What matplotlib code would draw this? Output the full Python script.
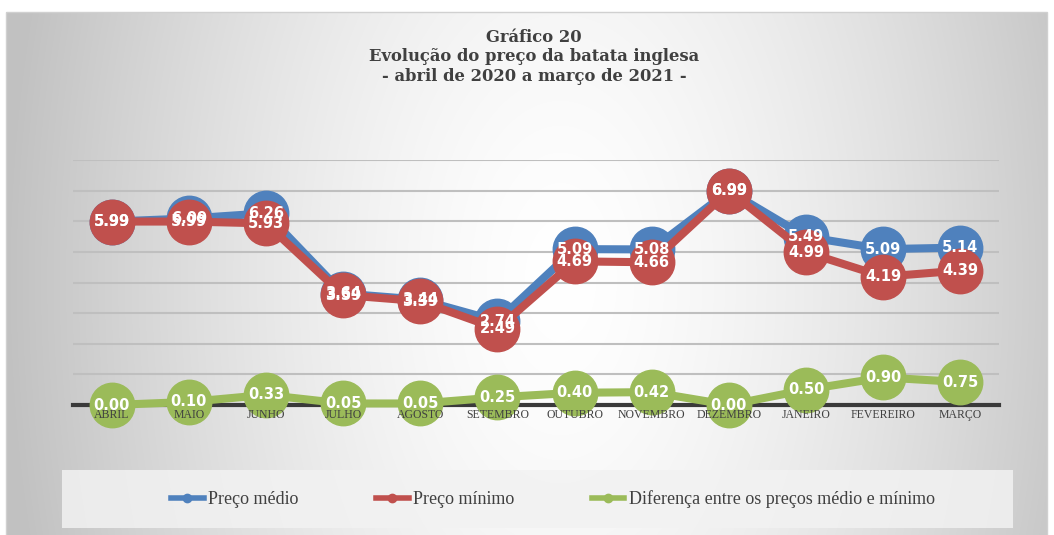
import numpy as np
import matplotlib.pyplot as plt
from matplotlib.lines import Line2D
from matplotlib.patches import Rectangle

meses = ["ABRIL", "MAIO", "JUNHO", "JULHO", "AGOSTO", "SETEMBRO", "OUTUBRO",
         "NOVEMBRO", "DEZEMBRO", "JANEIRO", "FEVEREIRO", "MARÇO"]
preco_medio = [5.99, 6.09, 6.26, 3.64, 3.44, 2.74, 5.09, 5.08, 6.99, 5.49, 5.09, 5.14]
preco_minimo = [5.99, 5.99, 5.93, 3.59, 3.39, 2.49, 4.69, 4.66, 6.99, 4.99, 4.19, 4.39]
diferenca = [0.00, 0.10, 0.33, 0.05, 0.05, 0.25, 0.40, 0.42, 0.00, 0.50, 0.90, 0.75]

blue = "#4f81bd"
red = "#c0504d"
green = "#9bbb59"
txt = "#404040"

W, H = 1054, 535
fig = plt.figure(figsize=(W / 100, H / 100), dpi=100)

# background: white page + grey gradient frame (light in the middle)
bg = fig.add_axes([0, 0, 1, 1], zorder=-10)
bg.set_axis_off()
yy, xx = np.mgrid[0:H, 0:W]
r = np.sqrt(((xx - 560) / 520.0) ** 2 + ((yy - 280) / 900.0) ** 2)
shade = np.clip(1.0 - 0.22 * r ** 1.5, 0.76, 1.0)
img = np.ones((H, W))
img[12:, 6:1047] = shade[12:, 6:1047]
rgb = np.dstack([img, img, img])
bg.imshow(rgb, extent=[0, W, H, 0], aspect="auto")
bg.add_patch(Rectangle((6, 12), 1041, 530, fill=False, ec="#d0d0d0", lw=1))
bg.add_patch(Rectangle((62, 470), 951, 58, fc="#f2f2f2", ec="none", alpha=0.85))
bg.set_xlim(0, W)
bg.set_ylim(H, 0)

ax = fig.add_axes([73 / W, 1 - 405 / H, 926 / W, 245 / H])
ax.set_facecolor("none")
x = np.arange(len(meses))
ax.set_xlim(-0.5, len(meses) - 0.5)
ax.set_ylim(0, 8)
ax.set_yticks(np.arange(0, 9, 1))
ax.grid(axis="y", color="#bfbfbf", lw=1.5)
ax.set_axisbelow(True)
ax.xaxis.set_zorder(5)  # month labels drawn over the markers
for s in ["top", "right", "left"]:
    ax.spines[s].set_visible(False)
ax.spines["bottom"].set_color("#3a3a3a")
ax.spines["bottom"].set_linewidth(3)
ax.spines["bottom"].set_zorder(1.5)
ax.tick_params(axis="y", left=False, labelleft=False)
ax.tick_params(axis="x", length=0, pad=3)
ax.set_xticks(x)
ax.set_xticklabels(meses, fontsize=8.5, color=txt, family="Liberation Serif")

ms = 32
lw = 5.8
ax.plot(x, preco_medio, color=blue, lw=lw, marker="o", ms=ms, clip_on=False, zorder=2)
ax.plot(x, preco_minimo, color=red, lw=lw, marker="o", ms=ms, clip_on=False, zorder=2.1)
ax.plot(x, diferenca, color=green, lw=lw, marker="o", ms=ms, clip_on=False, zorder=2.2)

lab = dict(color="white", fontsize=10.5, fontweight="bold", ha="center", va="center",
           family="DejaVu Sans", zorder=4)
for i in range(len(meses)):
    ax.text(x[i], preco_medio[i], f"{preco_medio[i]:.2f}", **lab)
    ax.text(x[i], preco_minimo[i], f"{preco_minimo[i]:.2f}", **lab)
    ax.text(x[i], diferenca[i], f"{diferenca[i]:.2f}", **lab)

fig.text(534 / W, 1 - 57 / H,
         "Gráfico 20\nEvolução do preço da batata inglesa\n- abril de 2020 a março de 2021 -",
         ha="center", va="center", fontsize=11.8, fontweight="bold", color=txt,
         family="DejaVu Serif", linespacing=1.2)

handles = [Line2D([], [], color=c, lw=4, marker="o", ms=6) for c in (blue, red, green)]
fig.legend(handles, ["Preço médio", "Preço mínimo", "Diferença entre os preços médio e mínimo"],
           loc="center", bbox_to_anchor=(553 / W, 1 - 499 / H), ncol=3, frameon=False,
           handlelength=1.8, handletextpad=0.25, columnspacing=4.3,
           prop={"family": "Liberation Serif", "size": 13}, labelcolor=txt)

fig.savefig("out.png", dpi=100)
